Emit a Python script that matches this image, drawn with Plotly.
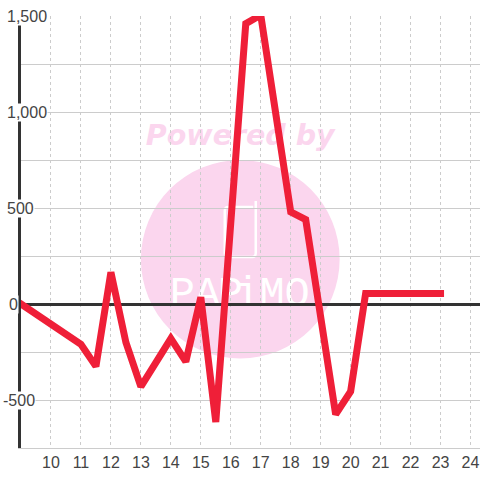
import plotly.graph_objects as go

x_values = [9, 11, 11.5, 12, 12.5, 13, 14, 14.5, 15, 15.5, 16.5, 17, 18, 18.5, 19.5, 20, 20.5, 23]
y_values = [0, -210, -325, 165, -200, -430, -180, -300, 35, -615, 1460, 1505, 480, 440, -575, -455, 55, 55]
x_ticks = list(range(10, 25))
y_label_values = [1500, 1000, 500, 0, -500]
y_label_texts = ["1,500", "1,000", "500", "0", "-500"]
logo_letters = ["P", "A", "P", "i", "M", "O"]

L, T, B = 20.5, 16, 448
W = 480 - L
H = B - T


def px(v):
    return (v - L) / W


def py(v):
    return (B - v) / H


RED = "#ef1f38"
PINK = "#fbd6ee"
GRID = "#cccccc"
DARK = "#333333"
TEXT = "#444444"

fig = go.Figure(go.Scatter(
    x=x_values, y=y_values, mode="lines", cliponaxis=False,
    line=dict(color=RED, width=7), hoverinfo="skip",
))

shapes = [
    dict(type="circle", xref="paper", yref="paper", layer="below",
         x0=px(140.5), x1=px(339.5), y0=py(358.5), y1=py(160),
         fillcolor=PINK, line_width=0),
    dict(type="rect", xref="paper", yref="paper", layer="below",
         x0=px(130), x1=px(350), y0=py(149), y1=py(117),
         line_width=0, fillcolor="rgba(0,0,0,0)",
         label=dict(text="Powered by", textposition="middle center",
                    font=dict(family="DejaVu Sans", size=28.5, color=PINK, weight="bold", style="italic"))),
    dict(type="path", xref="paper", yref="paper", layer="below",
         path=(f"M {px(253)} {py(207)} L {px(228)} {py(207)} Q {px(224.5)} {py(207)} {px(224.5)} {py(211)} "
               f"L {px(224.5)} {py(253)} Q {px(224.5)} {py(257)} {px(228)} {py(257)} "
               f"L {px(252)} {py(257)} Q {px(255.5)} {py(257)} {px(255.5)} {py(253)} L {px(255.5)} {py(201)}"),
         line=dict(color="white", width=2.5), fillcolor="rgba(0,0,0,0)"),
]
letter_centers = [182, 207, 230, 247, 272, 297]
for ch, cx in zip(logo_letters, letter_centers):
    shapes.append(dict(type="rect", xref="paper", yref="paper", layer="below",
                       x0=px(cx - 14), x1=px(cx + 14), y0=py(306), y1=py(270),
                       line_width=0, fillcolor="rgba(0,0,0,0)",
                       label=dict(text=ch, textposition="middle center",
                                  font=dict(family="Liberation Mono", size=42, color="white"))))

label_left = {"1,500": 5, "1,000": 5, "500": 5, "0": 7, "-500": 1}
annotations = [
    dict(x=px(label_left[t]), y=v, xref="paper", yref="y", text=t, showarrow=False,
         xanchor="left", yanchor="middle", bgcolor="white", borderpad=0,
         font=dict(family="Liberation Sans", size=16, color=TEXT))
    for v, t in zip(y_label_values, y_label_texts)
]

fig.update_layout(
    width=480, height=480, autosize=False,
    margin=dict(l=L, r=0, t=T, b=480 - B, pad=0),
    paper_bgcolor="white", plot_bgcolor="rgba(0,0,0,0)",
    showlegend=False, shapes=shapes, annotations=annotations,
    xaxis=dict(range=[9, 9 + W / 30], tickvals=x_ticks, ticks="",
               showgrid=True, gridcolor=GRID, griddash="3px,3px", gridwidth=1,
               zeroline=False, showline=True, linecolor=GRID, linewidth=1,
               tickfont=dict(family="Liberation Sans", size=16, color=TEXT)),
    yaxis=dict(range=[-750, 1500], dtick=250, tick0=0, ticks="", showticklabels=False,
               showgrid=True, gridcolor=GRID, gridwidth=1,
               zeroline=True, zerolinecolor=DARK, zerolinewidth=3,
               showline=True, linecolor=DARK, linewidth=3),
)

fig.write_html("out.html", config=dict(displayModeBar=False),
               post_script="document.body.style.margin='0';document.documentElement.style.overflow='hidden';document.querySelectorAll('.js-line').forEach(function(p){p.style.strokeLinecap='square';});")
